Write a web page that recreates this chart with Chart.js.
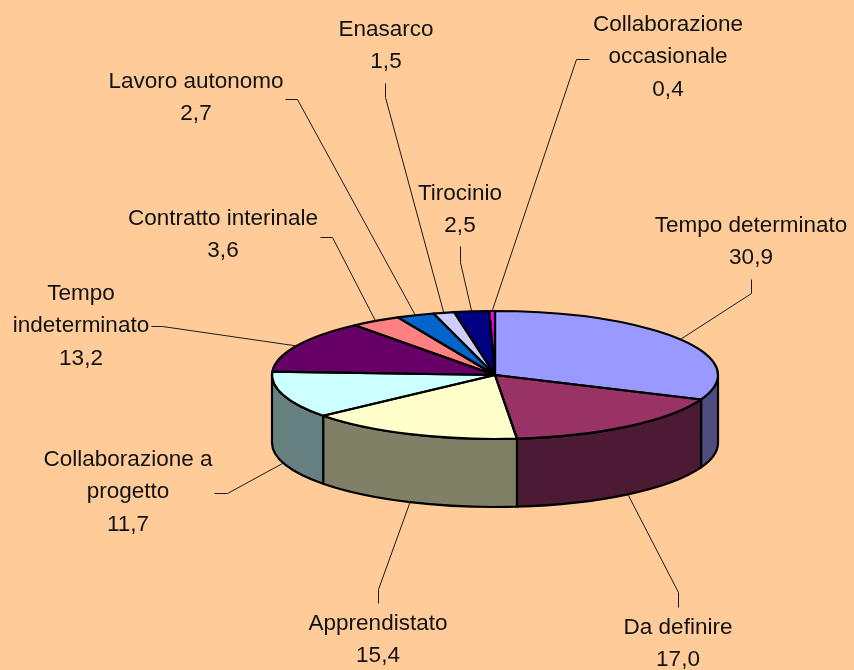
<!DOCTYPE html>
<html>
<head>
<meta charset="utf-8">
<script src="https://cdn.jsdelivr.net/npm/chart.js@4"></script>
<style>
html,body{margin:0;padding:0;background:#FFCC99;overflow:hidden}
canvas{display:block}
</style>
</head>
<body>
<canvas id="c" width="854" height="670"></canvas>
<script>
const categories = ['Tempo determinato','Da definire','Apprendistato','Collaborazione a progetto','Tempo indeterminato','Contratto interinale','Lavoro autonomo','Enasarco','Tirocinio','Collaborazione occasionale'];
const values = [30.9,17.0,15.4,11.7,13.2,3.6,2.7,1.5,2.5,0.4];
const sliceColors = ['#9999FF','#993366','#FFFFCC','#CCFFFF','#660066','#FF8080','#0066CC','#CCCCFF','#000080','#FF00FF'];

// Layout of the annotations (not data)
const firstLineWords = [2,2,1,2,1,2,2,1,1,1];
const labelCenterX = [751,678,378,128,81,223,196,386,460,668];
const labelFirstY = [226,628,624,460,294,219,82,30,194,25];
const lineGap = 32.2;
const elbows = [[751,293],[678,592],[378,589],[227,493],[162,326],[332,237],[297,99],[385,97],[460,262],[576,59]];
const leaderEnds = [[751,279],[678,607],[378,603],[214,493],[151,326],[320,237],[285,99],[385,83],[460,246],[589,59]];
const squash = 64/223, depth = 68;

const half = hex => '#' + [1,3,5].map(i => Math.round(parseInt(hex.substr(i,2),16)/2).toString(16).padStart(2,'0')).join('');
const arcsOf = chart => chart.getDatasetMeta(0).data.map(a => a.getProps(['x','y','startAngle','endAngle','outerRadius'], true));

const pie3d = {
  id: 'pie3d',
  beforeDraw(chart) {
    const {ctx, width, height} = chart;
    ctx.save(); ctx.fillStyle = '#FFCC99'; ctx.fillRect(0,0,width,height); ctx.restore();
  },
  beforeDatasetsDraw(chart) {
    const ctx = chart.ctx, arcs = arcsOf(chart);
    // side walls of the disc, for the part of each slice that faces the viewer
    ctx.save();
    ctx.lineWidth = 2.2; ctx.strokeStyle = '#000'; ctx.lineJoin = 'round';
    arcs.forEach((a, i) => {
      const lo = Math.max(a.startAngle, 0), hi = Math.min(a.endAngle, Math.PI);
      if (hi <= lo) return;
      const ry = a.outerRadius*squash;
      ctx.beginPath();
      ctx.ellipse(a.x, a.y, a.outerRadius, ry, 0, lo, hi);
      ctx.ellipse(a.x, a.y+depth, a.outerRadius, ry, 0, hi, lo, true);
      ctx.closePath();
      ctx.fillStyle = half(sliceColors[i]);
      ctx.fill(); ctx.stroke();
    });
    ctx.restore();
    // squash the library's own arcs into the top face
    const a0 = arcs[0];
    ctx.save();
    ctx.translate(a0.x, a0.y); ctx.scale(1, squash); ctx.translate(-a0.x, -a0.y);
  },
  afterDatasetsDraw(chart) {
    const ctx = chart.ctx, arcs = arcsOf(chart);
    ctx.restore();
    ctx.save();
    ctx.lineWidth = 2.2; ctx.strokeStyle = '#000'; ctx.lineJoin = 'round';
    arcs.forEach(a => {
      const ry = a.outerRadius*squash;
      ctx.beginPath();
      ctx.moveTo(a.x, a.y);
      ctx.ellipse(a.x, a.y, a.outerRadius, ry, 0, a.startAngle, a.endAngle);
      ctx.closePath();
      ctx.stroke();
    });
    // leader lines from each slice's mid angle
    ctx.lineWidth = 1; ctx.strokeStyle = '#1a1a1a';
    arcs.forEach((a, i) => {
      const m = (a.startAngle + a.endAngle)/2;
      const ry = a.outerRadius*squash;
      const sy = Math.sin(m);
      const x0 = a.x + a.outerRadius*Math.cos(m);
      const y0 = a.y + ry*sy + (sy > 0 ? depth : 0);
      ctx.beginPath();
      ctx.moveTo(x0, y0);
      ctx.lineTo(elbows[i][0]+.5, elbows[i][1]+.5);
      ctx.lineTo(leaderEnds[i][0]+.5, leaderEnds[i][1]+.5);
      ctx.stroke();
    });
    // labels
    ctx.fillStyle = '#111';
    ctx.font = '22.5px "Liberation Sans", Arial, sans-serif';
    ctx.textAlign = 'center'; ctx.textBaseline = 'middle';
    categories.forEach((name, i) => {
      const w = name.split(' ');
      const k = firstLineWords[i];
      const lines = [w.slice(0,k).join(' ')];
      if (w.length > k) lines.push(w.slice(k).join(' '));
      lines.push(values[i].toFixed(1).replace('.', ','));
      lines.forEach((t, j) => ctx.fillText(t, labelCenterX[i], labelFirstY[i] + j*lineGap));
    });
    ctx.restore();
  }
};

new Chart(document.getElementById('c'), {
  type: 'pie',
  data: { labels: categories, datasets: [{ data: values, backgroundColor: sliceColors, borderWidth: 0, clip: false }] },
  options: {
    responsive: false,
    animation: false,
    layout: { padding: { left: 272, right: 136, top: 152, bottom: 72 } },
    plugins: { legend: { display: false }, tooltip: { enabled: false } }
  },
  plugins: [pie3d]
});
</script>
</body>
</html>
